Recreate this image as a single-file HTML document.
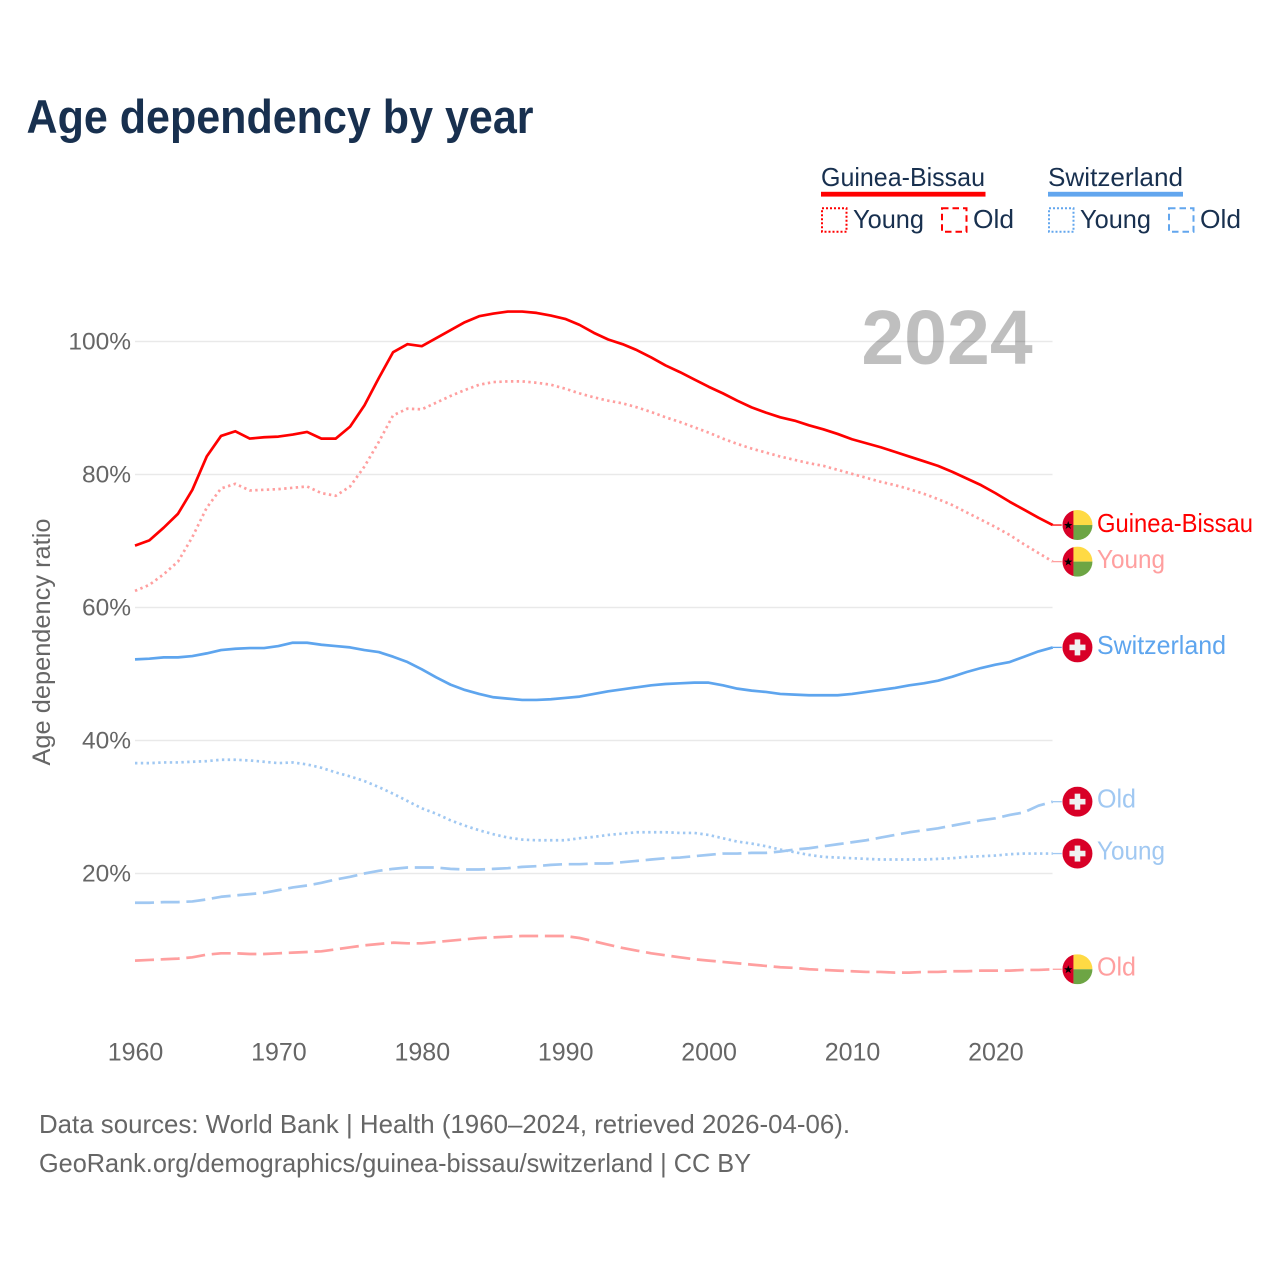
<!DOCTYPE html>
<html lang="en">
<head>
<meta charset="utf-8">
<title>Age dependency by year</title>
<style>
html,body{margin:0;padding:0;background:#fff}
svg{display:block}
text{font-family:"Liberation Sans",sans-serif}
</style>
</head>
<body>
<svg id="chart" xmlns="http://www.w3.org/2000/svg" width="1280" height="1280" viewBox="0 0 1280 1280">
  <defs>
    <clipPath id="flag-clip"><circle cx="0" cy="0" r="15"/></clipPath>
    <g id="flag-gw" clip-path="url(#flag-clip)">
      <rect x="-15" y="-15" width="11" height="30" fill="#d80027"/>
      <rect x="-4" y="-15" width="19" height="15" fill="#ffda44"/>
      <rect x="-4" y="0" width="19" height="15" fill="#6da544"/>
      <polygon points="-9.2,-4 -8.1,-1 -5,-1 -7.5,0.9 -6.5,3.9 -9.2,2.1 -11.9,3.9 -10.9,0.9 -13.4,-1 -10.3,-1" fill="#000"/>
    </g>
    <g id="flag-ch" clip-path="url(#flag-clip)">
      <rect x="-15" y="-15" width="30" height="30" fill="#d80027"/>
      <rect x="-8" y="-2.8" width="16" height="5.6" fill="#f0f0f0"/>
      <rect x="-2.8" y="-8" width="5.6" height="16" fill="#f0f0f0"/>
    </g>
  </defs>

  <text x="26.5" y="133" font-size="47" font-weight="700" fill="#18304f" textLength="507" lengthAdjust="spacingAndGlyphs">Age dependency by year</text>

  <g>
    <text x="821" y="186" font-size="26" fill="#18304f" textLength="164" lengthAdjust="spacingAndGlyphs">Guinea-Bissau</text>
    <rect x="821" y="191.8" width="164.5" height="4.8" fill="#ff0000"/>
    <rect x="822" y="208.3" width="24.5" height="23.5" fill="none" stroke="#ff0000" stroke-width="2" stroke-dasharray="2 2"/>
    <text x="853" y="228" font-size="26" fill="#18304f" textLength="71" lengthAdjust="spacingAndGlyphs">Young</text>
    <rect x="942" y="208.3" width="24.5" height="23.5" fill="none" stroke="#ff0000" stroke-width="2" stroke-dasharray="6.5 4"/>
    <text x="973" y="228" font-size="26" fill="#18304f" textLength="41" lengthAdjust="spacingAndGlyphs">Old</text>

    <text x="1048" y="186" font-size="26" fill="#18304f" textLength="135" lengthAdjust="spacingAndGlyphs">Switzerland</text>
    <rect x="1048" y="191.8" width="135" height="4.8" fill="#62a6ee"/>
    <rect x="1049" y="208.3" width="24.5" height="23.5" fill="none" stroke="#62a6ee" stroke-width="2" stroke-dasharray="2 2"/>
    <text x="1080" y="228" font-size="26" fill="#18304f" textLength="71" lengthAdjust="spacingAndGlyphs">Young</text>
    <rect x="1169" y="208.3" width="24.5" height="23.5" fill="none" stroke="#62a6ee" stroke-width="2" stroke-dasharray="6.5 4"/>
    <text x="1200" y="228" font-size="26" fill="#18304f" textLength="41" lengthAdjust="spacingAndGlyphs">Old</text>
  </g>

  <g id="grid"></g>
  <g id="yticks"></g>
  <g id="xticks"></g>
  <text transform="translate(50,642) rotate(-90)" text-anchor="middle" font-size="25" fill="#666666" textLength="247" lengthAdjust="spacingAndGlyphs">Age dependency ratio</text>
  <g id="series"></g>
  <g id="ends"></g>
  <text x="947" y="364" text-anchor="middle" font-size="77" font-weight="700" fill="#000000" fill-opacity="0.25">2024</text>

  <text x="39" y="1133" font-size="26" fill="#666666" textLength="811" lengthAdjust="spacingAndGlyphs">Data sources: World Bank | Health (1960–2024, retrieved 2026-04-06).</text>
  <text x="39" y="1172" font-size="26" fill="#666666" textLength="712" lengthAdjust="spacingAndGlyphs">GeoRank.org/demographics/guinea-bissau/switzerland | CC BY</text>
</svg>

<script>
const years = [1960,1961,1962,1963,1964,1965,1966,1967,1968,1969,
  1970,1971,1972,1973,1974,1975,1976,1977,1978,1979,
  1980,1981,1982,1983,1984,1985,1986,1987,1988,1989,
  1990,1991,1992,1993,1994,1995,1996,1997,1998,1999,
  2000,2001,2002,2003,2004,2005,2006,2007,2008,2009,
  2010,2011,2012,2013,2014,2015,2016,2017,2018,2019,
  2020,2021,2022,2023,2024];
const xTickYears = [1960,1970,1980,1990,2000,2010,2020];
const yTickValues = [100,80,60,40,20];

const guineaTotal = [69.3,70.1,72.0,74.1,77.7,82.7,85.8,86.5,85.4,85.6,
  85.7,86.0,86.4,85.4,85.4,87.2,90.4,94.5,98.4,99.6,
  99.3,100.5,101.7,102.9,103.8,104.2,104.5,104.5,104.3,103.9,
  103.4,102.5,101.3,100.3,99.6,98.7,97.6,96.4,95.4,94.3,
  93.2,92.2,91.1,90.1,89.3,88.6,88.1,87.4,86.8,86.1,
  85.3,84.7,84.1,83.4,82.7,82.0,81.3,80.4,79.4,78.4,
  77.2,75.9,74.7,73.5,72.4];
const guineaYoung = [62.5,63.4,65.0,66.9,70.6,75.0,77.9,78.6,77.6,77.7,
  77.8,78.0,78.2,77.2,76.8,78.2,81.2,84.9,88.9,89.9,
  89.8,90.8,91.8,92.7,93.5,93.9,94.0,94.0,93.8,93.5,
  92.9,92.2,91.6,91.1,90.7,90.1,89.4,88.6,87.9,87.1,
  86.3,85.4,84.6,83.9,83.3,82.7,82.2,81.7,81.3,80.7,
  80.1,79.5,78.9,78.4,77.8,77.1,76.3,75.4,74.3,73.2,
  72.1,70.9,69.5,68.2,66.9];
const guineaOld = [6.9,7.0,7.1,7.2,7.4,7.8,8.0,8.0,7.9,7.9,
  8.0,8.1,8.2,8.3,8.6,8.9,9.2,9.4,9.6,9.5,
  9.5,9.7,9.9,10.1,10.3,10.4,10.5,10.6,10.6,10.6,
  10.6,10.3,9.8,9.3,8.8,8.4,8.0,7.7,7.4,7.1,
  6.9,6.7,6.5,6.3,6.1,5.9,5.8,5.6,5.5,5.4,
  5.3,5.2,5.2,5.1,5.1,5.2,5.2,5.3,5.3,5.4,
  5.4,5.4,5.5,5.5,5.6];
const swissTotal = [52.2,52.3,52.5,52.5,52.7,53.1,53.6,53.8,53.9,53.9,
  54.2,54.7,54.7,54.4,54.2,54.0,53.6,53.3,52.6,51.8,
  50.7,49.5,48.4,47.6,47.0,46.5,46.3,46.1,46.1,46.2,
  46.4,46.6,47.0,47.4,47.7,48.0,48.3,48.5,48.6,48.7,
  48.7,48.3,47.8,47.5,47.3,47.0,46.9,46.8,46.8,46.8,
  47.0,47.3,47.6,47.9,48.3,48.6,49.0,49.6,50.3,50.9,
  51.4,51.8,52.6,53.4,54.0];
const swissYoung = [36.6,36.6,36.7,36.7,36.8,36.9,37.1,37.1,37.0,36.8,
  36.6,36.7,36.4,35.9,35.2,34.6,33.9,33.0,32.0,30.9,
  29.8,29.0,28.0,27.2,26.5,25.9,25.4,25.1,25.0,25.0,
  25.0,25.3,25.5,25.8,26.0,26.2,26.2,26.2,26.1,26.1,
  25.8,25.3,24.8,24.5,24.1,23.6,23.2,22.8,22.5,22.4,
  22.3,22.2,22.1,22.1,22.1,22.1,22.2,22.3,22.5,22.6,
  22.7,22.9,23.0,23.0,23.0];
const swissOld = [15.6,15.6,15.7,15.7,15.8,16.1,16.5,16.7,16.9,17.1,
  17.5,17.9,18.2,18.6,19.1,19.5,20.0,20.4,20.7,20.9,
  20.9,20.9,20.7,20.6,20.6,20.7,20.8,21.0,21.1,21.3,
  21.4,21.4,21.5,21.5,21.7,21.9,22.1,22.3,22.4,22.6,
  22.8,23.0,23.0,23.1,23.1,23.3,23.6,23.8,24.1,24.4,
  24.7,25.0,25.4,25.8,26.2,26.5,26.8,27.2,27.6,28.0,
  28.3,28.8,29.2,30.2,30.8];

const seriesList = [
  {name:'swiss-old', label:'Old', values:swissOld, color:'#a0c8f2', dash:'19 6.7', flag:'flag-ch', labelDy:6},
  {name:'swiss-young', label:'Young', values:swissYoung, color:'#a0c8f2', dash:'2.4 3.4', flag:'flag-ch', labelDy:6},
  {name:'swiss-total', label:'Switzerland', values:swissTotal, color:'#5ea5ee', dash:null, flag:'flag-ch', labelDy:6.5},
  {name:'guinea-old', label:'Old', values:guineaOld, color:'#ff9f9f', dash:'19 6.7', flag:'flag-gw', labelDy:6},
  {name:'guinea-young', label:'Young', values:guineaYoung, color:'#ff9f9f', dash:'2.4 3.4', flag:'flag-gw', labelDy:6.5},
  {name:'guinea-total', label:'Guinea-Bissau', values:guineaTotal, color:'#ff0000', dash:null, flag:'flag-gw', labelDy:7}
];

const SVG_NS = 'http://www.w3.org/2000/svg';
const xScale = function (year) { return 135 + (year - 1960) * 14.34; };
const yScale = function (value) { return 1006.5 - value * 6.65; };
const mk = function (tag, parent) {
  const node = document.createElementNS(SVG_NS, tag);
  parent.appendChild(node);
  return node;
};

const gridGroup = document.getElementById('grid');
const yTickGroup = document.getElementById('yticks');
const xTickGroup = document.getElementById('xticks');
const seriesGroup = document.getElementById('series');
const endGroup = document.getElementById('ends');

yTickValues.forEach(function (v) {
  const line = mk('line', gridGroup);
  
  
  line.setAttribute('x1', 135);
  line.setAttribute('x2', 1052.5);
  line.setAttribute('y1', yScale(v));
  line.setAttribute('y2', yScale(v));
  line.setAttribute('stroke', '#e9e9e9');
  line.setAttribute('stroke-width', 1.5);

  const label = mk('text', yTickGroup);
  
  
  label.setAttribute('x', 131);
  label.setAttribute('y', yScale(v) + 8);
  label.setAttribute('text-anchor', 'end');
  label.setAttribute('font-size', 24.5);
  label.setAttribute('fill', '#666666');
  label.textContent = v + '%';
});

xTickYears.forEach(function (yr) {
  const label = mk('text', xTickGroup);
  
  
  label.setAttribute('x', xScale(yr) + 0.5);
  label.setAttribute('y', 1060.5);
  label.setAttribute('text-anchor', 'middle');
  label.setAttribute('font-size', 25);
  label.setAttribute('fill', '#666666');
  label.textContent = String(yr);
});

seriesList.forEach(function (s) {
  const d = s.values.map(function (v, i) {
    return (i ? 'L' : 'M') + xScale(years[i]).toFixed(2) + ' ' + yScale(v).toFixed(2);
  }).join('');
  const path = mk('path', seriesGroup);
  
  
  path.setAttribute('d', d);
  path.setAttribute('fill', 'none');
  path.setAttribute('stroke', s.color);
  path.setAttribute('stroke-width', 2.7);
  path.setAttribute('stroke-linejoin', 'round');
  if (s.dash) path.setAttribute('stroke-dasharray', s.dash);

  const lastY = yScale(s.values[s.values.length - 1]);
  const lastX = xScale(years[years.length - 1]);

  const stub = mk('line', endGroup);
  
  
  stub.setAttribute('x1', lastX);
  stub.setAttribute('x2', lastX + 9);
  stub.setAttribute('y1', lastY);
  stub.setAttribute('y2', lastY);
  stub.setAttribute('stroke', s.color);
  stub.setAttribute('stroke-width', 1.3);

  const flag = mk('use', endGroup);
  
  
  flag.setAttribute('href', '#' + s.flag);
  flag.setAttribute('transform', 'translate(' + (lastX + 24.7) + ',' + lastY + ')');

  const endLabel = mk('text', endGroup);
  
  
  endLabel.setAttribute('x', 1097);
  endLabel.setAttribute('y', lastY + s.labelDy);
  endLabel.setAttribute('font-size', 26);
  endLabel.setAttribute('fill', s.color);
  if (s.label === 'Guinea-Bissau') endLabel.setAttribute('textLength', 156);
  if (s.label === 'Switzerland') endLabel.setAttribute('textLength', 129);
  if (s.label === 'Young') endLabel.setAttribute('textLength', 68);
  if (s.label === 'Old') endLabel.setAttribute('textLength', 39);
  endLabel.setAttribute('lengthAdjust', 'spacingAndGlyphs');
  endLabel.textContent = s.label;
});
</script>
</body>
</html>
